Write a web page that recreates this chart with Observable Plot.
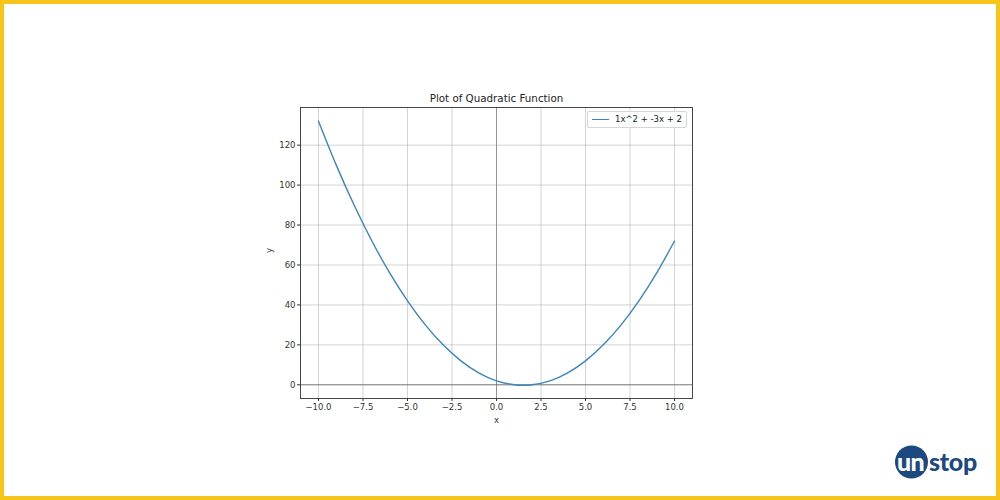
<!DOCTYPE html>
<html>
<head>
<meta charset="utf-8">
<script src="https://cdn.jsdelivr.net/npm/d3@7"></script>
<script src="https://cdn.jsdelivr.net/npm/@observablehq/plot@0.6"></script>
<style>
  html, body { margin: 0; padding: 0; background: #fff; }
  #wrap { position: relative; width: 1000px; height: 500px; overflow: hidden; }
  #border { position: absolute; left: 0; top: 0; width: 1000px; height: 500px; box-sizing: border-box; border: 4px solid #f7c41a; pointer-events: none; }
  #legend { position: absolute; left: 587px; top: 111px; width: 100px; height: 17px; box-sizing: border-box; border: 1px solid #d6d6d6; border-radius: 2px; background: rgba(255,255,255,0.8); font-family: "DejaVu Sans", sans-serif; font-size: 8.5px; color: #222; }
  #legend .sw { position: absolute; left: 4px; top: 7px; width: 17px; height: 0; border-top: 1.6px solid #3a85bd; }
  #legend .lb { position: absolute; left: 27px; top: 2px; white-space: nowrap; }
  #logo { position: absolute; left: 894px; top: 444px; }
</style>
</head>
<body>
<div id="wrap">
  <div id="chart"></div>
  <div id="legend"><div class="sw"></div><div class="lb">1x^2 + -3x + 2</div></div>
  <svg id="logo" width="96" height="38">
    <circle cx="17.5" cy="18" r="16.5" fill="#1c4a80"></circle>
    <text x="3" y="27" font-family="Lato, 'Open Sans', sans-serif" font-weight="900" font-size="25" fill="#fff" letter-spacing="-0.6">un</text>
    <text x="35" y="27" font-family="Lato, 'Open Sans', sans-serif" font-weight="900" font-size="25" fill="#1c4a80" letter-spacing="-0.3">stop</text>
  </svg>
  <div id="border"></div>
</div>
<script>
// Values
const xs = [-10, -9, -8, -7, -6, -5, -4, -3, -2, -1, 0, 1, 1.5, 2, 3, 4, 5, 6, 7, 8, 9, 10];
const ys = [132, 110, 90, 72, 56, 42, 30, 20, 12, 6, 2, 0, -0.25, 0, 2, 6, 12, 20, 30, 42, 56, 72];
const xTicks = [-10, -7.5, -5, -2.5, 0, 2.5, 5, 7.5, 10];
const yTicks = [0, 20, 40, 60, 80, 100, 120];
const titleText = "Plot of Quadratic Function";
const xLabel = "x";
const yLabel = "y";

const data = xs.map((x, i) => ({x, y: ys[i]}));
const minus = s => s.replace("-", "\u2212");

const chart = Plot.plot({
  width: 1000,
  height: 500,
  marginLeft: 300,
  marginRight: 308,
  marginTop: 107,
  marginBottom: 102,
  style: {fontFamily: "'DejaVu Sans', sans-serif", fontSize: "8.5px", color: "#333", background: "transparent"},
  x: {domain: [-11.01, 11.01]},
  y: {domain: [-6.86, 138.86]},
  marks: [
    Plot.gridX(xTicks, {stroke: "#b0b0b0", strokeOpacity: 0.7, strokeWidth: 0.8}),
    Plot.gridY(yTicks, {stroke: "#b0b0b0", strokeOpacity: 0.7, strokeWidth: 0.8}),
    Plot.ruleY([0], {stroke: "#222", strokeWidth: 0.5}),
    Plot.ruleX([0], {stroke: "#777", strokeWidth: 0.7}),
    Plot.line(data, {x: "x", y: "y", stroke: "#3a85bd", strokeWidth: 1.4, curve: "natural"}),
    Plot.frame({stroke: "#333", strokeWidth: 0.9}),
    Plot.axisX(xTicks, {tickSize: 3, tickPadding: 2, label: null, tickFormat: d => minus(d.toFixed(1)), stroke: "#333", fill: "#333"}),
    Plot.axisY(yTicks, {tickSize: 3, tickPadding: 2, label: null, tickFormat: d => minus(String(d)), stroke: "#333", fill: "#333"}),
    Plot.text([titleText], {frameAnchor: "top", dy: -13, fontSize: 10.3, fill: "#222", text: d => d}),
    Plot.text([xLabel], {frameAnchor: "bottom", dy: 24, fontSize: 8.5, fill: "#333", text: d => d}),
    Plot.text([yLabel], {frameAnchor: "left", dx: -31, rotate: -90, fontSize: 8.5, fill: "#333", text: d => d})
  ]
});
document.getElementById("chart").appendChild(chart);
</script>
</body>
</html>
